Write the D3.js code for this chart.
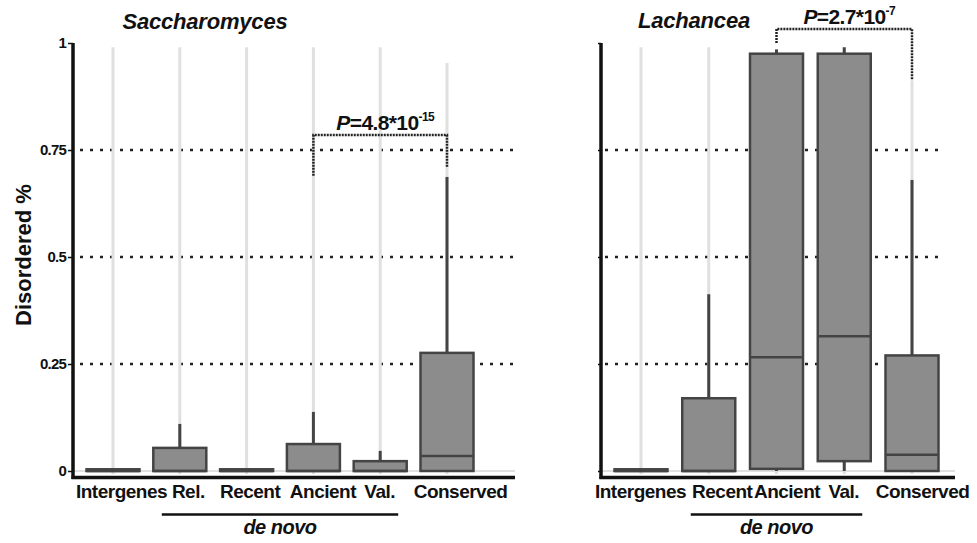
<!DOCTYPE html>
<html>
<head>
<meta charset="utf-8">
<script src="https://cdn.jsdelivr.net/npm/d3@7"></script>
<style>
  body { margin: 0; background: #fff; }
  svg text { font-family: "Liberation Sans", Arial, Helvetica, sans-serif; fill: #111; }
</style>
</head>
<body>
<svg id="chart" width="977" height="543"></svg>
<script>
// ---- data -------------------------------------------------------------
const yTickValues = [0, 0.25, 0.5, 0.75, 1];
const yTickLabels = ["0", "0.25", "0.5", "0.75", "1"];
const gridValues = [0.25, 0.5, 0.75];

// Saccharomyces
const sacchCategories = ["Intergenes", "Rel.", "Recent", "Ancient", "Val.", "Conserved"];
const sacchQ1       = [0, 0, 0, 0, 0, 0];
const sacchMedian   = [0, 0, 0, 0, 0, 0.035];
const sacchQ3       = [0.004, 0.054, 0.004, 0.063, 0.023, 0.276];
const sacchWhiskLo  = [0, 0, 0, 0, 0, 0];
const sacchWhiskHi  = [0.004, 0.11, 0.004, 0.138, 0.047, 0.687];
const sacchMax      = [0.99, 0.99, 0.99, 0.99, 0.99, 0.953];
const sacchDeNovo   = ["Rel.", "Val."];
const sacchTest     = { from: "Ancient", to: "Conserved", level: 0.785, dropFrom: 0.69, dropTo: 0.71,
                        mantissa: "4.8", exponent: "-15" };

// Lachancea
const lachCategories = ["Intergenes", "Recent", "Ancient", "Val.", "Conserved"];
const lachQ1       = [0, 0, 0.005, 0.023, 0];
const lachMedian   = [0, 0, 0.266, 0.315, 0.038];
const lachQ3       = [0.004, 0.17, 0.975, 0.975, 0.27];
const lachWhiskLo  = [0, 0, 0, 0, 0];
const lachWhiskHi  = [0.004, 0.413, 0.985, 0.99, 0.68];
const lachMax      = [0.99, 0.99, 0.985, 0.99, 0.913];
const lachDeNovo   = ["Recent", "Val."];
const lachTest     = { from: "Ancient", to: "Conserved", level: 1.033, dropFrom: 1.0, dropTo: 0.913,
                       mantissa: "2.7", exponent: "-7" };

// ---- drawing ----------------------------------------------------------
const svg = d3.select("#chart");
const y = d3.scaleLinear().domain([0, 1]).range([471, 43]);

const BOX_W = 53;
const BOX_FILL = "#8c8c8c";
const BOX_STROKE = "#444";
const LIGHT = "#e0e0e0";

function drawPanel(p) {
  const g = svg.append("g");
  const x = d3.scalePoint().domain(p.categories).range(p.range);
  const rows = p.categories.map((c, i) => ({
    c, q1: p.q1[i], med: p.median[i], q3: p.q3[i],
    lo: p.whiskLo[i], hi: p.whiskHi[i], max: p.max[i]
  }));

  // faint zero line
  g.append("line")
    .attr("x1", p.axisX).attr("x2", p.endX)
    .attr("y1", y(0)).attr("y2", y(0))
    .attr("stroke", LIGHT).attr("stroke-width", 2);

  // dotted reference lines
  g.selectAll(".grid").data(gridValues).join("line")
    .attr("x1", p.gridStart).attr("x2", p.gridEnd)
    .attr("y1", d => y(d)).attr("y2", d => y(d))
    .attr("stroke", "#222").attr("stroke-width", 2.5)
    .attr("stroke-dasharray", "3,7");

  // full range (light)
  g.selectAll(".range").data(rows).join("line")
    .attr("x1", d => x(d.c)).attr("x2", d => x(d.c))
    .attr("y1", d => y(0) + 3).attr("y2", d => y(d.max))
    .attr("stroke", LIGHT).attr("stroke-width", 3);

  // whiskers
  g.selectAll(".whiskHi").data(rows).join("line")
    .attr("x1", d => x(d.c)).attr("x2", d => x(d.c))
    .attr("y1", d => y(d.q3)).attr("y2", d => y(d.hi))
    .attr("stroke", BOX_STROKE).attr("stroke-width", 3);
  g.selectAll(".whiskLo").data(rows).join("line")
    .attr("x1", d => x(d.c)).attr("x2", d => x(d.c))
    .attr("y1", d => y(d.q1)).attr("y2", d => y(d.lo))
    .attr("stroke", BOX_STROKE).attr("stroke-width", 3);

  // boxes
  g.selectAll(".box").data(rows).join("rect")
    .attr("x", d => x(d.c) - BOX_W / 2)
    .attr("y", d => y(d.q3))
    .attr("width", BOX_W)
    .attr("height", d => Math.max(1.5, y(d.q1) - y(d.q3)))
    .attr("fill", BOX_FILL).attr("stroke", BOX_STROKE).attr("stroke-width", 2.5);

  // medians
  g.selectAll(".median").data(rows).join("line")
    .attr("x1", d => x(d.c) - BOX_W / 2).attr("x2", d => x(d.c) + BOX_W / 2)
    .attr("y1", d => y(d.med)).attr("y2", d => y(d.med))
    .attr("stroke", BOX_STROKE).attr("stroke-width", 2.5);

  // y axis
  const yAxis = d3.axisLeft(y).tickValues(yTickValues).tickSize(p.showYLabels ? 5 : 3).tickPadding(2)
    .tickFormat((d, i) => p.showYLabels ? yTickLabels[i] : "");
  const ya = g.append("g").attr("transform", `translate(${p.axisX},0)`).call(yAxis);
  ya.select(".domain").remove();
  ya.selectAll(".tick line").attr("stroke", "#111").attr("stroke-width", 1.5);
  ya.selectAll(".tick text").attr("font-size", 15).attr("font-weight", "bold")
    .attr("letter-spacing", "-0.8px").attr("fill", "#111");
  g.append("line")
    .attr("x1", p.axisX).attr("x2", p.axisX)
    .attr("y1", y(1)).attr("y2", 479)
    .attr("stroke", "#111").attr("stroke-width", 3.5);

  // x axis
  g.append("line")
    .attr("x1", p.axisX - 1.5).attr("x2", p.endX)
    .attr("y1", 477.5).attr("y2", 477.5)
    .attr("stroke", "#111").attr("stroke-width", 3.5);
  const xAxis = d3.axisBottom(x).tickSize(0).tickPadding(0);
  const xa = g.append("g").attr("transform", `translate(0,484)`).call(xAxis);
  xa.select(".domain").remove();
  xa.selectAll(".tick text")
    .attr("dy", "0.71em").attr("dx", (d, i) => p.labelNudge[i])
    .attr("font-size", 19).attr("font-weight", "bold")
    .attr("letter-spacing", "-0.5px").attr("fill", "#111");

  // de novo grouping
  const dn0 = x(p.deNovo[0]) - 18, dn1 = x(p.deNovo[1]) + 18;
  g.append("line")
    .attr("x1", dn0).attr("x2", dn1).attr("y1", 514.5).attr("y2", 514.5)
    .attr("stroke", "#111").attr("stroke-width", 2.5);
  g.append("text")
    .attr("x", (dn0 + dn1) / 2).attr("y", 534)
    .attr("text-anchor", "middle")
    .attr("font-size", 20).attr("font-style", "italic").attr("font-weight", "bold")
    .attr("letter-spacing", "-0.5px")
    .text("de novo");

  // title
  g.append("text")
    .attr("x", p.titleX).attr("y", p.titleY)
    .attr("text-anchor", "middle")
    .attr("font-size", 22).attr("font-style", "italic").attr("font-weight", "bold")
    .attr("letter-spacing", "-0.2px")
    .text(p.title);

  // significance bracket
  const t = p.test;
  const bx0 = x(t.from), bx1 = x(t.to), by = y(t.level);
  g.append("path")
    .attr("d", `M${bx0},${y(t.dropFrom)} V${by} H${bx1} V${y(t.dropTo)}`)
    .attr("fill", "none").attr("stroke", "#222").attr("stroke-width", 2.5)
    .attr("stroke-dasharray", "2,1");
  const label = g.append("text")
    .attr("x", (bx0 + bx1) / 2 + 5).attr("y", by - 5)
    .attr("text-anchor", "middle")
    .attr("font-size", 21).attr("font-weight", "bold").attr("letter-spacing", "-0.6px");
  label.append("tspan").attr("font-style", "italic").text("P");
  label.append("tspan").text("=" + t.mantissa + "*10");
  label.append("tspan").attr("font-size", 12).attr("dy", -9).text(t.exponent);
}

drawPanel({
  categories: sacchCategories, q1: sacchQ1, median: sacchMedian, q3: sacchQ3,
  whiskLo: sacchWhiskLo, whiskHi: sacchWhiskHi, max: sacchMax,
  deNovo: sacchDeNovo, test: sacchTest,
  range: [113, 447], axisX: 73, endX: 515, gridStart: 80, gridEnd: 515,
  labelNudge: [8, 8, 3, 9, -1, 13], showYLabels: true,
  title: "Saccharomyces", titleX: 205, titleY: 29
});

drawPanel({
  categories: lachCategories, q1: lachQ1, median: lachMedian, q3: lachQ3,
  whiskLo: lachWhiskLo, whiskHi: lachWhiskHi, max: lachMax,
  deNovo: lachDeNovo, test: lachTest,
  range: [641, 912], axisX: 601, endX: 955, gridStart: 605, gridEnd: 945,
  labelNudge: [-1, 13, 10, -1, 10], showYLabels: false,
  title: "Lachancea", titleX: 694, titleY: 28
});

// shared y-axis title
svg.append("text")
  .attr("transform", "translate(31,255) rotate(-90)")
  .attr("text-anchor", "middle")
  .attr("font-size", 22).attr("font-weight", "bold")
  .text("Disordered %");
</script>
</body>
</html>
